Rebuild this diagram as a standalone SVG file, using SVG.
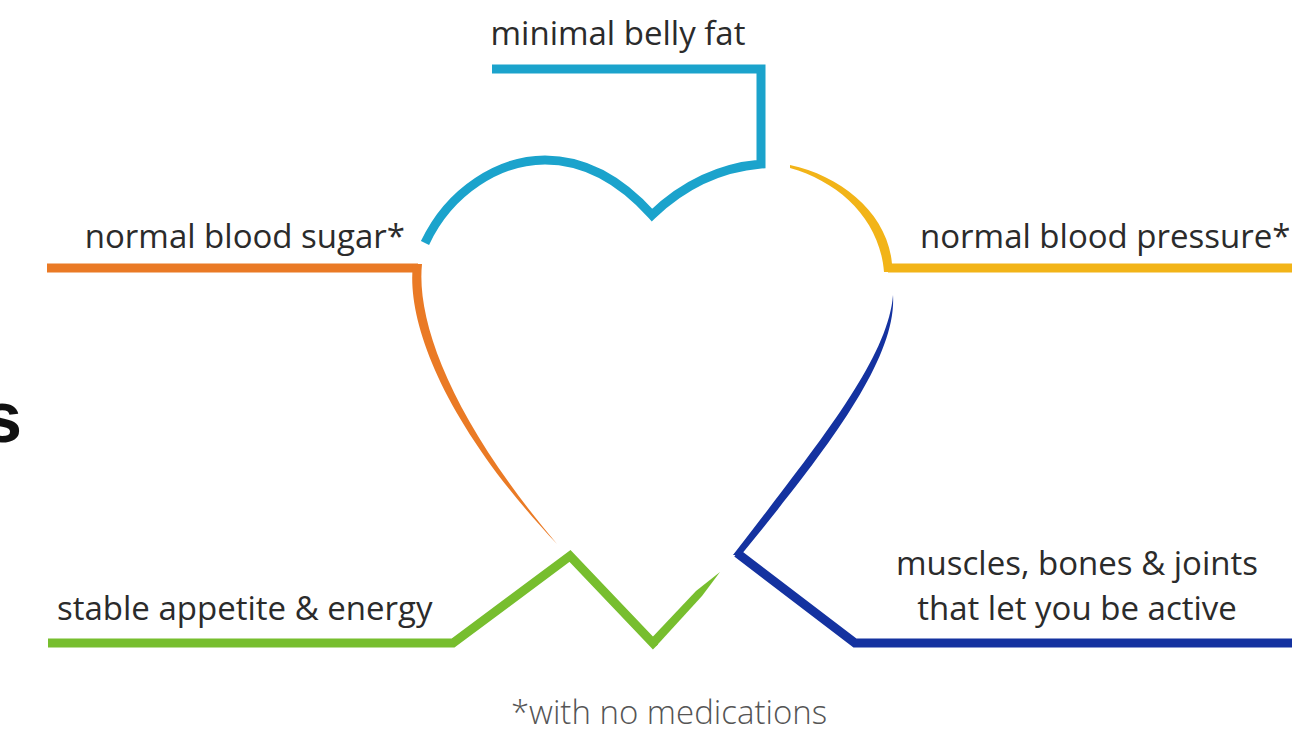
<svg xmlns="http://www.w3.org/2000/svg" width="1292" height="735" viewBox="0 0 1292 735">
<style>
.lbl{font-family:"Open Sans","Liberation Sans",sans-serif;font-size:33px;fill:#2b2b2b}
.note{font-family:"Open Sans","Liberation Sans",sans-serif;font-size:33px;font-weight:300;fill:#555}
.ln{fill:none;stroke-width:9;stroke-linejoin:miter;stroke-linecap:butt}
</style>
<rect width="1292" height="735" fill="#ffffff"/>
<text x="22" y="442" text-anchor="end" style="font-family:'Liberation Sans',Arial,sans-serif;font-weight:bold;font-size:72px;fill:#111">s</text>
<g id="connectors">
  <path class="ln" stroke="#1BA3CC" d="M492,69 L761,69 L761,164 C715,168 680,188 652,215 C625,185 590,160 545,160 C500,160 450,190 425,243"/>
  <path class="ln" stroke="#EA7A25" d="M47,268 L418,268"/>
  <path fill="#EA7A25" d="M413,264 L422,264 C416,322 452,420 557,544 C444,424 406,322 413,264 Z"/>
  <path fill="#F2B418" d="M790,165 C842,176 888,214 892,264 L892,272 L884,272 C880,220 840,182 790,168 Z"/>
  <path class="ln" stroke="#F2B418" d="M888,268 L1292,268"/>
  <path fill="#1432A0" d="M893,295 C897,360 825,452 741,555 L733,555 C815,448 888,360 893,295 Z"/>
  <path class="ln" stroke="#1432A0" d="M737,553 L855,643 L1292,643"/>
  <path class="ln" stroke="#77BE2E" d="M48,643 L453,643 L570,556 L653,643 L655,641"/>
  <path fill="#77BE2E" d="M649.7,639.9 L696,591 L720,572 L702,596 L656.3,646.1 Z"/>
</g>
<g id="n-belly"><text class="lbl" x="618" y="45" text-anchor="middle">minimal belly fat</text></g>
<g id="n-sugar"><text class="lbl" x="405" y="248" text-anchor="end">normal blood sugar*</text></g>
<g id="n-pressure"><text class="lbl" x="920" y="248">normal blood pressure*</text></g>
<g id="n-appetite"><text class="lbl" x="57" y="620">stable appetite &amp; energy</text></g>
<g id="n-muscles"><text class="lbl" x="1077" y="575" text-anchor="middle">muscles, bones &amp; joints</text><text class="lbl" x="1077" y="620" text-anchor="middle">that let you be active</text></g>
<g id="n-note"><text class="note" x="669" y="724" text-anchor="middle">*with no medications</text></g>
</svg>
